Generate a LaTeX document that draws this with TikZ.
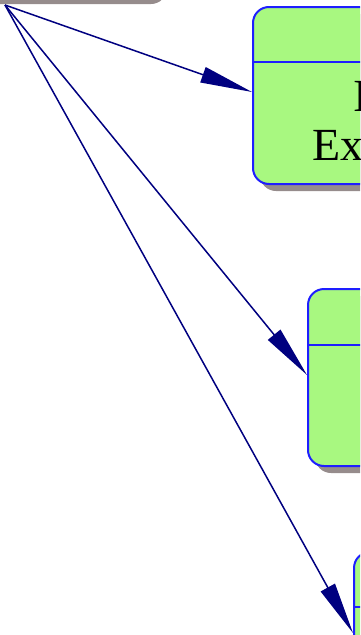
\documentclass[tikz,border=0pt]{standalone}
\usepackage{fontspec}
\setmainfont{Liberation Serif}
\usetikzlibrary{arrows.meta,shadows,calc}
\definecolor{boxgreen}{RGB}{168,248,128}
\definecolor{boxblue}{RGB}{30,30,255}
\definecolor{arrownavy}{RGB}{0,0,128}
\definecolor{shadowgray}{RGB}{150,140,140}
\begin{document}
\begin{tikzpicture}[x=1pt,y=-1pt,
  umlbox/.style={draw=boxblue, line width=2pt, fill=boxgreen, rounded corners=16pt,
    minimum width=220pt, minimum height=177pt, inner sep=0pt, anchor=north west,
    drop shadow={shadow xshift=7pt, shadow yshift=-7pt, fill=shadowgray, opacity=1}},
  sepline/.style={draw=boxblue, line width=2pt},
  connector/.style={draw=arrownavy, line width=1.5pt, -{Triangle[length=52pt,width=16pt]}},
  boxtext/.style={font=\fontsize{46}{49}\selectfont, inner sep=0pt, anchor=base west}
]
\useasboundingbox (0,0) rectangle (360,635);
\clip (0,0) rectangle (360,635);
% parent box (only its shadow shows)
\node[umlbox, anchor=south east, minimum width=300pt, minimum height=120pt] (parent) at (161,-2) {};
% child boxes
\node[umlbox] (b1) at (252,6) {};
\node[umlbox] (b2) at (307,288) {};
\node[umlbox] (b3) at (353,551) {};
\draw[sepline] ($(b1.north west)+(0,56)$) -- ($(b1.north east)+(0,56)$);
\draw[sepline] ($(b2.north west)+(0,57)$) -- ($(b2.north east)+(0,57)$);
\draw[sepline] ($(b3.north west)+(0,56)$) -- ($(b3.north east)+(0,56)$);
% texts
\node[boxtext] (t1) at (353,111.7) {I};
\node[boxtext] (t2) at (312,160.7) {Ex};
% connectors
\coordinate (src) at (5,5);
\draw[connector] (src) -- ($(b1.north west)+(0,86)$);
\draw[connector] (src) -- ($(b2.north west)+(0,87)$);
\draw[connector] (src) -- ($(b3.north west)+(0,82)$);
\end{tikzpicture}
\end{document}
